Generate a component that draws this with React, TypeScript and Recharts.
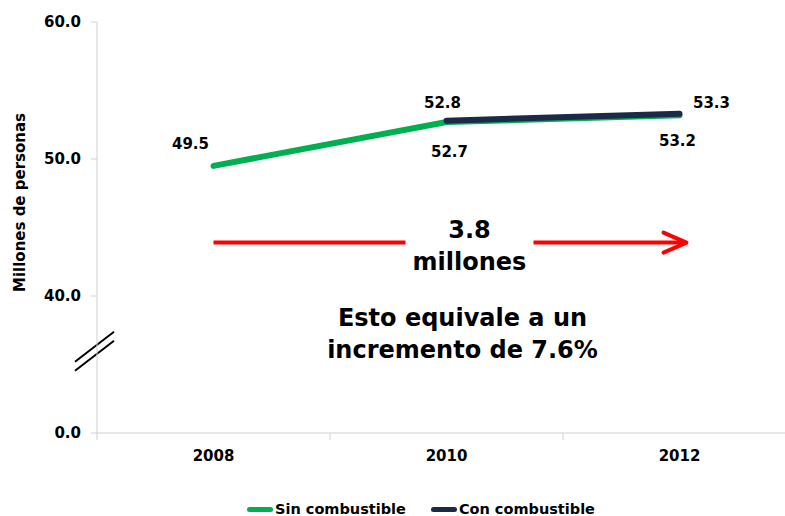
import { LineChart, Line, XAxis, YAxis, Legend, LabelList, ReferenceLine } from "recharts"

// Datos (millones de personas)
const years = ["2008", "2010", "2012"]
const sinCombustible = [49.5, 52.7, 53.2]
const conCombustible: (number | null)[] = [null, 52.8, 53.3]
const yTickValues = [0, 40, 50, 60]

// anotaciones
const arrowLevel = 43.9
const breakLevel = 24

const FONT = "'DejaVu Sans', Verdana, sans-serif"
const GREEN = "#00b050"
const NAVY = "#1b2a47"
const AXIS = "#d0d0d0"

// eje cortado: 0-40 comprimido, 40-60 normal
const mapY = (v: number) => (v >= 40 ? v - 30 : v / 4)
const unmapY = (t: number) => (t >= 10 ? t + 30 : t * 4)

const rows = years.map((year, i) => ({
  year,
  sin: sinCombustible[i],
  con: conCombustible[i],
  sinY: mapY(sinCombustible[i]),
  conY: conCombustible[i] == null ? null : mapY(conCombustible[i] as number),
}))

const labelStyle = { fontFamily: FONT, fontSize: 15, fontWeight: "bold" as const, fill: "#000" }

const sinOffsets = [
  [-23, -22],
  [3, 30],
  [-2, 26],
]
const conOffsets = [
  [0, 0],
  [-4, -18],
  [32, -11],
]

const makeLabel = (offsets: number[][]) => (p: any) => {
  if (p.value == null) return null
  const [dx, dy] = offsets[p.index] || [0, 0]
  return (
    <text x={p.x + dx} y={p.y + dy} textAnchor="middle" dominantBaseline="central" {...labelStyle}>
      {Number(p.value).toFixed(1)}
    </text>
  )
}

const XTick = (p: any) => {
  const n = p.visibleTicksCount || years.length
  const band = (p.width || 699) / n
  const bx = p.x - band / 2
  return (
    <g>
      <line x1={bx} y1={p.y} x2={bx} y2={p.y + 7} stroke={AXIS} />
      {p.index === n - 1 && <line x1={bx + band} y1={p.y} x2={bx + band} y2={p.y + 7} stroke={AXIS} />}
      <text x={p.x} y={p.y + 23} textAnchor="middle" dominantBaseline="central" {...labelStyle}>
        {p.payload.value}
      </text>
    </g>
  )
}

const ArrowShape = (p: any) => {
  const { x1, y1, x2 } = p
  const tip = x2 + 7
  const big = { fontFamily: FONT, fontWeight: "bold" as const, fill: "#000", textAnchor: "middle" as const, dominantBaseline: "central" as const }
  return (
    <g>
      <line x1={x1} y1={y1} x2={x1 + 192} y2={y1} stroke="#ff0000" strokeWidth={4} />
      <line x1={x1 + 320} y1={y1} x2={tip - 2} y2={y1} stroke="#ff0000" strokeWidth={4} />
      <polyline
        points={`${tip - 23},${y1 - 10} ${tip},${y1} ${tip - 23},${y1 + 10}`}
        fill="none"
        stroke="#ff0000"
        strokeWidth={4}
        strokeLinecap="round"
        strokeLinejoin="round"
      />
      <text x={x1 + 256} y={y1 - 13} fontSize={24} {...big}>3.8</text>
      <text x={x1 + 256} y={y1 + 19} fontSize={24} {...big}>millones</text>
      <text x={x1 + 249} y={y1 + 75} fontSize={24} {...big}>Esto equivale a un</text>
      <text x={x1 + 249} y={y1 + 107} fontSize={24} {...big}>incremento de 7.6%</text>
    </g>
  )
}

const BreakShape = (p: any) => {
  const cx = p.x1 - 2
  const cy = p.y1
  return (
    <g stroke="#000" strokeWidth={2}>
      <line x1={cx - 20} y1={cy + 11} x2={cx + 19} y2={cy - 19} />
      <line x1={cx - 20} y1={cy + 20} x2={cx + 19} y2={cy - 10} />
    </g>
  )
}

const LegendContent = () => (
  <div style={{ display: "flex", alignItems: "center", height: 26, paddingLeft: 247, fontFamily: FONT, fontSize: 14.5, fontWeight: "bold", color: "#000" }}>
    <span style={{ display: "inline-block", width: 26, height: 5, borderRadius: 3, background: GREEN }} />
    <span style={{ marginLeft: 2 }}>Sin combustible</span>
    <span style={{ display: "inline-block", width: 26, height: 5, borderRadius: 3, background: NAVY, marginLeft: 25 }} />
    <span style={{ marginLeft: 2 }}>Con combustible</span>
  </div>
)

export default function App() {
  return (
    <div style={{ position: "absolute", left: 0, top: 0, width: 785, height: 516, overflow: "hidden", background: "#fff" }}>
      <LineChart width={800} height={516} data={rows} margin={{ top: 22, right: 4, left: 20, bottom: 17 }}>
        <XAxis dataKey="year" scale="band" axisLine={{ stroke: AXIS }} tickLine={false} tickSize={0} tickMargin={0} height={40} tick={<XTick />} interval={0} />
        <YAxis
          type="number"
          domain={[0, 30]}
          ticks={yTickValues.map(mapY)}
          tickFormatter={(t: number) => unmapY(t).toFixed(1)}
          width={77}
          tickSize={6}
          tickMargin={10}
          axisLine={{ stroke: AXIS }}
          tickLine={{ stroke: AXIS }}
          tick={labelStyle}
          label={{
            content: (lp: any) => {
              const vb = lp.viewBox || { x: 20, y: 22, height: 411 }
              const x = 20
              const y = vb.y + vb.height / 2 - 25
              return (
                <text x={x} y={y} transform={`rotate(-90, ${x}, ${y})`} textAnchor="middle" dominantBaseline="central" fontFamily={FONT} fontSize={15} fontWeight="bold" fill="#000">
                  Millones de personas
                </text>
              )
            },
          }}
        />
        <Legend verticalAlign="bottom" height={26} wrapperStyle={{ left: 0, top: 496, width: 800, height: 26 }} content={<LegendContent />} />
        <ReferenceLine y={mapY(breakLevel)} shape={BreakShape} stroke="none" />
        <Line type="linear" dataKey="sinY" name="Sin combustible" stroke={GREEN} strokeWidth={6} strokeLinecap="round" dot={false} activeDot={false} isAnimationActive={false}>
          <LabelList dataKey="sin" content={makeLabel(sinOffsets)} />
        </Line>
        <Line type="linear" dataKey="conY" name="Con combustible" stroke={NAVY} strokeWidth={6} strokeLinecap="round" dot={false} activeDot={false} isAnimationActive={false}>
          <LabelList dataKey="con" content={makeLabel(conOffsets)} />
        </Line>
        <ReferenceLine
          segment={[
            { x: years[0], y: mapY(arrowLevel) },
            { x: years[2], y: mapY(arrowLevel) },
          ]}
          shape={ArrowShape}
          stroke="none"
        />
      </LineChart>
    </div>
  )
}
